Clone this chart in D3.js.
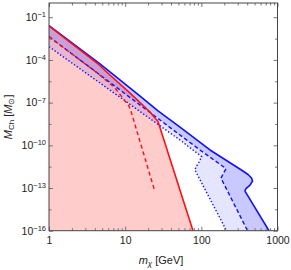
<!DOCTYPE html>
<html>
<head>
<meta charset="utf-8">
<script src="https://cdn.jsdelivr.net/npm/d3@7"></script>
<style>
  body { margin: 0; background: #fff; }
  svg { font-family: "Liberation Sans", Arial, sans-serif; }
</style>
</head>
<body>
<div id="plot"></div>
<script>
var w = 291;
var h = 270;

// plot frame in pixels
var padLeft = 49, padRight = 277.5, padTop = 3, padBottom = 230.7;

// blue solid curve (upper edge of the blue band)
var blueSolidM = [1, 4.67, 15.7, 27, 52.5, 130, 352, 410, 456, 470, 436, 386, 374, 773];
var blueSolidMass = [2.6e-2, 5.2e-5, 2.9e-7, 2.6e-8, 1.9e-9, 4.7e-11, 1.56e-12, 8.9e-13, 5.0e-13, 3.1e-13, 1.6e-13, 9.2e-14, 6.1e-14, 1e-16];

// blue dashed curve
var blueDashedM = [1, 52.5, 96, 211, 199, 181, 404];
var blueDashedMass = [4.3e-3, 5.3e-10, 4.7e-11, 2.3e-12, 1.3e-12, 5.0e-13, 1e-16];

// blue dotted curve
var blueDottedM = [1, 52.5, 101, 93, 85, 82.6, 214];
var blueDottedMass = [8.5e-4, 2.35e-10, 1.6e-11, 6.5e-12, 3.0e-12, 1.8e-12, 1e-16];

// red solid curve
var redSolidM = [1, 4.4, 6.3, 11.6, 21.2, 24.6, 27, 77.7];
var redSolidMass = [2.4e-2, 5.2e-5, 8.7e-6, 4.7e-7, 2.2e-8, 8.3e-9, 4.7e-9, 1e-16];

// red dashed curve
var redDashedM = [1, 4.4, 7.36, 11.2, 11.9, 24.6];
var redDashedMass = [4.3e-3, 1.1e-5, 1.06e-6, 5.8e-8, 2.6e-8, 5.5e-14];

// ticks
var xMajor = [1, 10, 100, 1000];
var yMajor = [1e-1, 1e-4, 1e-7, 1e-10, 1e-13, 1e-16];

var zip = (xs, ys) => xs.map((x, i) => [x, ys[i]]);
var blueSolid = zip(blueSolidM, blueSolidMass);
var blueDashed = zip(blueDashedM, blueDashedMass);
var blueDotted = zip(blueDottedM, blueDottedMass);
var redSolid = zip(redSolidM, redSolidMass);
var redDashed = zip(redDashedM, redDashedMass);

var xScale = d3.scaleLog().domain([1, 1000]).range([padLeft, padRight]);
var yScale = d3.scaleLog().domain([1e-16, 1]).range([padBottom, padTop]);

var line = d3.line().x((d) => xScale(d[0])).y((d) => yScale(d[1]));

var svg = d3.select("#plot").append("svg").attr("width", w).attr("height", h);

svg.append("clipPath").attr("id", "clip")
  .append("rect")
  .attr("x", padLeft).attr("y", padTop)
  .attr("width", padRight - padLeft).attr("height", padBottom - padTop);

var g = svg.append("g").attr("clip-path", "url(#clip)");

// pink region below the red solid curve
g.append("path")
  .attr("d", line(redSolid.concat([[1, 1e-16]])) + "Z")
  .attr("fill", "#ffcccc");

// blue bands
g.append("path")
  .attr("d", line(blueSolid.concat(blueDotted.slice().reverse())) + "Z")
  .attr("fill", "rgba(0,0,255,0.1)");

g.append("path")
  .attr("d", line(blueSolid.concat(blueDashed.slice().reverse())) + "Z")
  .attr("fill", "rgba(0,0,255,0.12)");

// lines
function drawLine(data, color, dash, width) {
  g.append("path")
    .attr("d", line(data))
    .attr("fill", "none")
    .attr("stroke", color)
    .attr("stroke-width", width)
    .attr("stroke-dasharray", dash)
    .attr("stroke-linejoin", "round");
}

drawLine(blueDotted, "#1010ff", "1.4,2", 1.4);
drawLine(blueDashed, "#1010ff", "4,2.5", 1.4);
drawLine(blueSolid, "#1010ff", null, 1.6);
drawLine(redDashed, "#ff1010", "4,3", 1.4);
drawLine(redSolid, "#ff1010", null, 1.6);

// minor ticks
var xMinor = [];
[1, 10, 100].forEach((d) => {
  for (var k = 2; k <= 9; k++) xMinor.push(d * k);
});
var yMinor = yMajor.slice(0, -1).map((d) => d / Math.pow(10, 1.5));

// axes, ticks pointing inwards
var xAxis = d3.axisBottom(xScale).tickValues(xMajor).tickFormat(d3.format("d")).tickSize(-4).tickPadding(6);
var xAxisTop = d3.axisTop(xScale).tickValues(xMajor).tickFormat("").tickSize(-4);
var xMinorB = d3.axisBottom(xScale).tickValues(xMinor).tickFormat("").tickSize(-2.5);
var xMinorT = d3.axisTop(xScale).tickValues(xMinor).tickFormat("").tickSize(-2.5);

var yAxis = d3.axisLeft(yScale).tickValues(yMajor).tickFormat("").tickSize(-4).tickPadding(3);
var yAxisRight = d3.axisRight(yScale).tickValues(yMajor).tickFormat("").tickSize(-4);
var yMinorL = d3.axisLeft(yScale).tickValues(yMinor).tickFormat("").tickSize(-2.5);
var yMinorR = d3.axisRight(yScale).tickValues(yMinor).tickFormat("").tickSize(-2.5);

function place(axis, tx, ty) {
  var a = svg.append("g")
    .attr("transform", "translate(" + tx + "," + ty + ")")
    .call(axis);
  a.select(".domain").remove();
  a.selectAll(".tick line").attr("stroke", "#777");
  a.selectAll("text").attr("font-size", "10.5px").attr("fill", "#222").attr("font-family", "Liberation Sans, Arial, sans-serif");
  return a;
}

place(xAxis, 0, padBottom);
place(xAxisTop, 0, padTop);
place(xMinorB, 0, padBottom);
place(xMinorT, 0, padTop);
var yG = place(yAxis, padLeft, 0);
place(yAxisRight, padRight, 0);
place(yMinorL, padLeft, 0);
place(yMinorR, padRight, 0);

// 10^n labels
yG.selectAll(".tick text").each(function (d) {
  var t = d3.select(this);
  var p = Math.round(Math.log10(d));
  t.text(null);
  t.append("tspan").text("10");
  t.append("tspan").attr("dy", "-0.5em").attr("font-size", "7.5px").text("\u2212" + (-p));
});

// frame
svg.append("rect")
  .attr("x", padLeft).attr("y", padTop)
  .attr("width", padRight - padLeft).attr("height", padBottom - padTop)
  .attr("fill", "none")
  .attr("stroke", "#444")
  .attr("stroke-width", 1);

// axis titles
var xt = svg.append("text")
  .attr("x", 161).attr("y", 264)
  .attr("text-anchor", "middle")
  .attr("font-size", "11px")
  .attr("fill", "#222");
xt.append("tspan").attr("font-style", "italic").text("m");
xt.append("tspan").attr("font-style", "italic").attr("font-size", "8px").attr("dy", "2").text("\u03c7");
xt.append("tspan").attr("dy", "-2").text(" [GeV]");

var yt = svg.append("text")
  .attr("transform", "translate(12," + ((padTop + padBottom) / 2) + ") rotate(-90)")
  .attr("text-anchor", "middle")
  .attr("font-size", "11px")
  .attr("fill", "#222");
yt.append("tspan").attr("font-style", "italic").text("M");
yt.append("tspan").attr("font-size", "8px").attr("dy", "2").text("Ch");
yt.append("tspan").attr("dy", "-2").text(" [");
yt.append("tspan").attr("font-style", "italic").text("M");
yt.append("tspan").attr("font-size", "8px").attr("dy", "2").text("\u2299");
yt.append("tspan").attr("dy", "-2").text("]");
</script>
</body>
</html>
